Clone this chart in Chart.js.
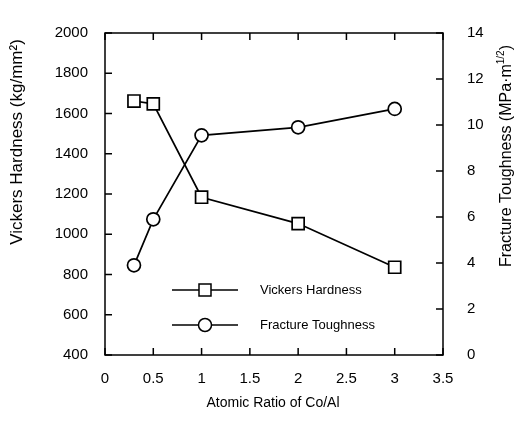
<!DOCTYPE html>
<html>
<head>
<meta charset="utf-8">
<script src="https://cdn.jsdelivr.net/npm/chart.js@4"></script>
<style>
  html, body { margin: 0; padding: 0; background: #fff; }
  #wrap { width: 519px; height: 424px; }
</style>
</head>
<body>
<div id="wrap"><canvas id="myChart" width="519" height="424"></canvas></div>
<script>
// atomic ratio Co/Al
const ratios = [0.3, 0.5, 1, 2, 3];
// kg/mm^2
const hardness = [1662, 1648, 1184, 1053, 836];
// MPa·m^1/2
const toughness = [3.9, 5.9, 9.55, 9.9, 10.7];

const xTicks = ["0", "0.5", "1", "1.5", "2", "2.5", "3", "3.5"];

const FONT = "'Liberation Sans', Arial, sans-serif";

// inward ticks, frame, axis titles and legend
const framePlugin = {
  id: "frame",
  afterDraw(chart) {
    const { ctx, chartArea: a, scales } = chart;
    ctx.save();
    ctx.strokeStyle = "#000";
    ctx.lineWidth = 1.5;
    ctx.strokeRect(a.left, a.top, a.right - a.left, a.bottom - a.top);

    const len = 7;
    ctx.beginPath();
    scales.x.ticks.forEach((t) => {
      const px = scales.x.getPixelForValue(t.value);
      ctx.moveTo(px, a.bottom);
      ctx.lineTo(px, a.bottom - len);
      ctx.moveTo(px, a.top);
      ctx.lineTo(px, a.top + len);
    });
    scales.y.ticks.forEach((t) => {
      const py = scales.y.getPixelForValue(t.value);
      ctx.moveTo(a.left, py);
      ctx.lineTo(a.left + len, py);
    });
    scales.y2.ticks.forEach((t) => {
      const py = scales.y2.getPixelForValue(t.value);
      ctx.moveTo(a.right, py);
      ctx.lineTo(a.right - len, py);
    });
    ctx.stroke();

    ctx.fillStyle = "#000";
    ctx.textBaseline = "middle";

    // x title
    ctx.font = "14px " + FONT;
    ctx.textAlign = "center";
    ctx.fillText("Atomic Ratio of Co/Al", 273, 403);

    // left title
    ctx.save();
    ctx.translate(17, 142);
    ctx.rotate(-Math.PI / 2);
    ctx.font = "17px " + FONT;
    ctx.textAlign = "center";
    ctx.fillText("Vickers Hardness (kg/mm\u00b2)", 0, 0);
    ctx.restore();

    // right title with superscript 1/2
    ctx.save();
    ctx.translate(507, 156);
    ctx.rotate(-Math.PI / 2);
    ctx.font = "16px " + FONT;
    const main = "Fracture Toughness (MPa\u00b7m";
    const w1 = ctx.measureText(main).width;
    ctx.font = "10px " + FONT;
    const w2 = ctx.measureText("1/2").width;
    ctx.font = "16px " + FONT;
    const w3 = ctx.measureText(")").width;
    let x0 = -(w1 + w2 + w3) / 2;
    ctx.textAlign = "left";
    ctx.fillText(main, x0, 0);
    ctx.font = "10px " + FONT;
    ctx.fillText("1/2", x0 + w1, -6);
    ctx.font = "16px " + FONT;
    ctx.fillText(")", x0 + w1 + w2, 0);
    ctx.restore();

    // legend
    const rows = [
      { label: "Vickers Hardness", y: 290, style: "rect" },
      { label: "Fracture Toughness", y: 325, style: "circle" },
    ];
    ctx.font = "13px " + FONT;
    ctx.textAlign = "left";
    rows.forEach((r) => {
      ctx.lineWidth = 1.5;
      ctx.beginPath();
      ctx.moveTo(172, r.y);
      ctx.lineTo(238, r.y);
      ctx.stroke();
      ctx.beginPath();
      if (r.style === "rect") {
        ctx.rect(199, r.y - 6, 12, 12);
      } else {
        ctx.arc(205, r.y, 6.5, 0, Math.PI * 2);
      }
      ctx.fillStyle = "#fff";
      ctx.fill();
      ctx.stroke();
      ctx.fillStyle = "#000";
      ctx.fillText(r.label, 260, r.y);
    });
    ctx.restore();
  },
};

const ctx = document.getElementById("myChart").getContext("2d");
new Chart(ctx, {
  type: "line",
  data: {
    datasets: [
      {
        label: "Vickers Hardness",
        data: ratios.map((x, i) => ({ x: x, y: hardness[i] })),
        yAxisID: "y",
        borderColor: "#000",
        borderWidth: 1.7,
        pointStyle: "rect",
        pointRadius: 8.5,
        pointBackgroundColor: "#fff",
        pointBorderColor: "#000",
        pointBorderWidth: 1.7,
      },
      {
        label: "Fracture Toughness",
        data: ratios.map((x, i) => ({ x: x, y: toughness[i] })),
        yAxisID: "y2",
        borderColor: "#000",
        borderWidth: 1.7,
        pointStyle: "circle",
        pointRadius: 6.5,
        pointBackgroundColor: "#fff",
        pointBorderColor: "#000",
        pointBorderWidth: 1.7,
      },
    ],
  },
  options: {
    responsive: false,
    animation: false,
    layout: { padding: { top: 14, left: 0, right: 0, bottom: 0 } },
    plugins: { legend: { display: false }, tooltip: { enabled: false } },
    scales: {
      x: {
        type: "linear",
        min: 0,
        max: 3.5,
        grid: { display: false, drawTicks: false },
        border: { display: false },
        ticks: {
          stepSize: 0.5,
          padding: 15,
          color: "#000",
          font: { family: FONT, size: 15 },
          callback: (v, i) => xTicks[i],
        },
        afterFit: (s) => { s.height = 69; },
      },
      y: {
        position: "left",
        min: 400,
        max: 2000,
        grid: { display: false, drawTicks: false },
        border: { display: false },
        ticks: {
          stepSize: 200,
          padding: 17,
          color: "#000",
          font: { family: FONT, size: 15 },
          callback: (v) => String(v),
        },
        afterFit: (s) => { s.width = 105; },
      },
      y2: {
        position: "right",
        min: 0,
        max: 14,
        grid: { display: false, drawTicks: false },
        border: { display: false },
        ticks: {
          stepSize: 2,
          padding: 24,
          color: "#000",
          font: { family: FONT, size: 15 },
          callback: (v) => String(v),
        },
        afterFit: (s) => { s.width = 76; },
      },
    },
  },
  plugins: [framePlugin],
});
</script>
</body>
</html>
